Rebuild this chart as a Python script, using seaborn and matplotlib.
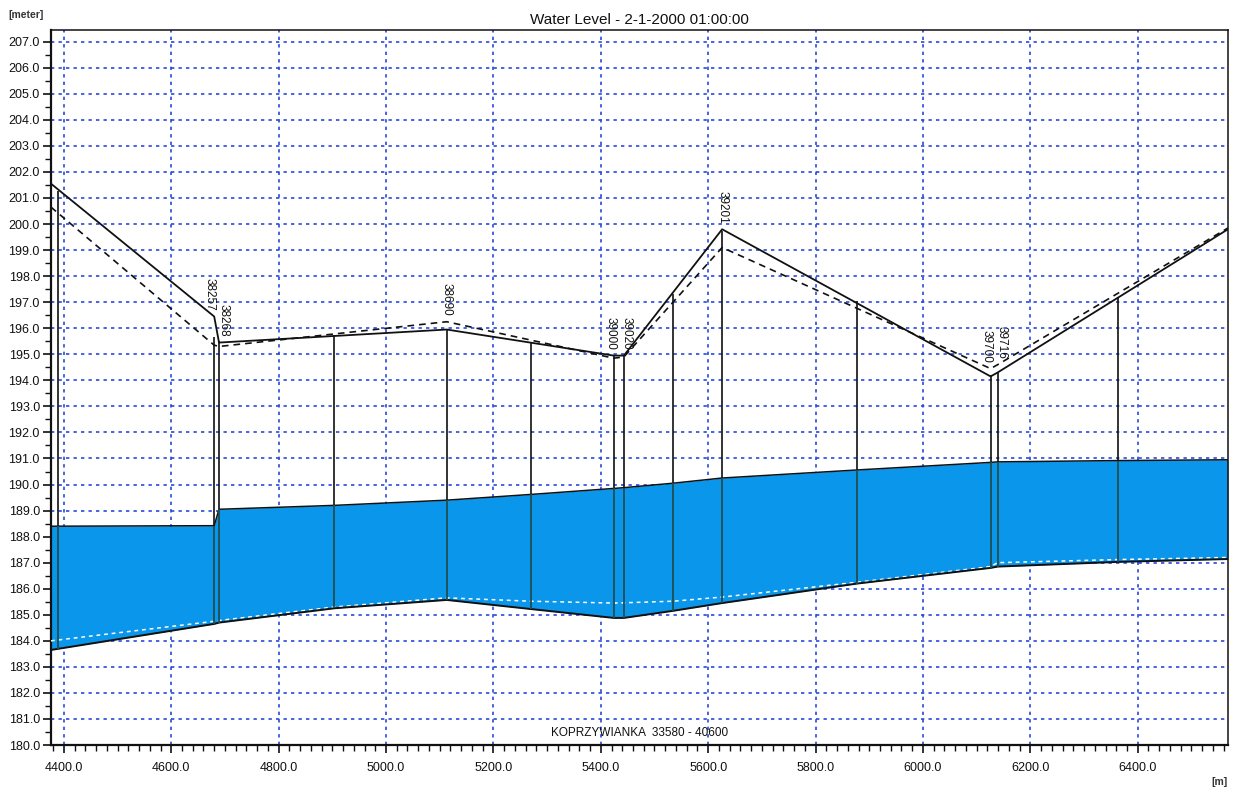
import matplotlib
matplotlib.use("Agg")
import numpy as np
import pandas as pd
import matplotlib.pyplot as plt
from matplotlib.ticker import MultipleLocator, FormatStrFormatter
import seaborn as sns

# ─── DATA ────────────────────────────────────────────────────────────────────

# top of cross-sections (bank level), current and previous (dashed)
top_chainage   = [4376, 4680, 4689, 5113, 5424, 5443, 5626, 6126, 6139, 6568]
top_level      = [201.55, 196.45, 195.45, 195.95, 194.95, 194.95, 199.80, 194.15, 194.30, 199.80]
top_level_prev = [200.65, 195.35, 195.30, 196.25, 194.85, 194.90, 199.10, 194.45, 194.60, 199.85]

# river bed, water surface and previous bed (white dashed)
bed_chainage   = [4376, 4680, 4689, 4904, 5113, 5270, 5424, 5443, 5534, 5626, 5878, 6126, 6139, 6363, 6568]
bed_level      = [183.65, 184.65, 184.70, 185.25, 185.57, 185.22, 184.88, 184.88, 185.15, 185.45, 186.20, 186.80, 186.85, 187.03, 187.14]
bed_level_prev = [184.00, 184.75, 184.78, 185.30, 185.65, 185.52, 185.45, 185.46, 185.52, 185.68, 186.25, 186.85, 187.00, 187.12, 187.20]
water_level    = [188.40, 188.42, 189.05, 189.20, 189.40, 189.62, 189.85, 189.88, 190.05, 190.25, 190.56, 190.85, 190.87, 190.92, 190.95]

# cross-section verticals
section_chainage = [4389, 4680, 4689, 4904, 5113, 5270, 5424, 5443, 5534, 5626, 5878, 6126, 6139, 6363]
section_bottom   = [183.68, 184.65, 184.70, 185.25, 185.57, 185.22, 184.88, 184.88, 185.15, 185.45, 186.20, 186.80, 186.85, 187.03]
section_top      = [201.25, 195.65, 195.50, 195.75, 195.95, 195.45, 194.92, 194.95, 197.30, 199.75, 197.05, 194.20, 194.30, 197.15]

label_chainage = [4680, 4689, 5113, 5424, 5443, 5626, 6126, 6139]
label_text     = ["38257", "38268", "38690", "39000", "39020", "39201", "39700", "39716"]
label_nudge    = [-3, 3, 0, -2, 2, 0, -3, 3]   # points, to keep neighbours apart

BLUE_FILL = "#0a96ea"
GRID_BLUE = "#2a48dc"

sns.set_theme(style="white")
plt.rcParams["font.family"] = ["Liberation Sans", "DejaVu Sans"]

fig = plt.figure(figsize=(12.34, 7.93), dpi=100)
ax = fig.add_axes([0.0413, 0.0605, 0.9538, 0.9017])

top_df = pd.DataFrame({"chainage": top_chainage, "top": top_level, "top_prev": top_level_prev})
bed_df = pd.DataFrame({"chainage": bed_chainage, "bed": bed_level,
                       "bed_prev": bed_level_prev, "water": water_level})

# water body
ax.fill_between(bed_df["chainage"], bed_df["bed"], bed_df["water"],
                color=BLUE_FILL, linewidth=0, zorder=2)

sns.lineplot(data=bed_df, x="chainage", y="bed_prev", ax=ax, color="white",
             lw=1.1, linestyle=(0, (2.5, 2.5)), estimator=None, zorder=3)
sns.lineplot(data=bed_df, x="chainage", y="bed", ax=ax, color="#111111",
             lw=1.4, estimator=None, zorder=4)
sns.lineplot(data=bed_df, x="chainage", y="water", ax=ax, color="#111111",
             lw=1.1, estimator=None, zorder=4)
sns.lineplot(data=top_df, x="chainage", y="top", ax=ax, color="#111111",
             lw=1.3, estimator=None, zorder=4)
sns.lineplot(data=top_df, x="chainage", y="top_prev", ax=ax, color="#111111",
             lw=1.2, linestyle=(0, (4, 3)), estimator=None, zorder=4)

# cross-section verticals: dark teal inside the water, black above
water_at_sec = np.interp(section_chainage, bed_chainage, water_level)
ax.vlines(section_chainage, section_bottom, water_at_sec, color="#1f4e52", lw=1.3, zorder=4)
ax.vlines(section_chainage, water_at_sec, section_top, color="#111111", lw=1.2, zorder=4)

# section labels, rotated, just above the bank line
for x, name, dx in zip(label_chainage, label_text, label_nudge):
    y = max(np.interp(x, top_chainage, top_level), np.interp(x, top_chainage, top_level_prev))
    ax.annotate(name, xy=(x, y), xytext=(dx, 4), textcoords="offset points",
                rotation=270, ha="center", va="bottom", fontsize=8.5, color="#111111", zorder=5)

# axes, ticks, grid
ax.set_xlim(4376, 6568)
ax.set_ylim(180.0, 207.45)
ax.xaxis.set_major_locator(MultipleLocator(200))
ax.xaxis.set_minor_locator(MultipleLocator(20))
ax.yaxis.set_major_locator(MultipleLocator(1))
ax.yaxis.set_minor_locator(MultipleLocator(0.5))
ax.xaxis.set_major_formatter(FormatStrFormatter("%.1f"))
ax.yaxis.set_major_formatter(FormatStrFormatter("%.1f"))
ax.tick_params(which="both", bottom=True, left=True, direction="out", colors="#111111")
ax.tick_params(which="major", length=6, width=1.2, labelsize=9, pad=6)
ax.tick_params(axis="y", which="major", pad=2)
ax.tick_params(which="minor", length=4, width=1.0)
ax.set_xlabel("")
ax.set_ylabel("")

ax.set_axisbelow(True)
ax.grid(True, which="major", color=GRID_BLUE, linestyle=(0, (2, 2.5)), lw=1.2, zorder=0)

for side, spine in ax.spines.items():
    spine.set_visible(True)
    spine.set_color("#111111")
    spine.set_linewidth(1.6 if side in ("left", "bottom") else 1.1)

ax.set_title("Water Level - 2-1-2000 01:00:00", fontsize=11, pad=4, color="#111111")
ax.text(0.5, 0.008, "KOPRZYWIANKA  33580 - 40600", transform=ax.transAxes,
        ha="center", va="bottom", fontsize=8.5, color="#111111", zorder=6)
fig.text(0.0065, 0.981, "[meter]", ha="left", va="center", fontsize=7.5,
         weight="bold", color="#333333")
fig.text(0.988, 0.008, "[m]", ha="center", va="bottom", fontsize=7.5,
         weight="bold", color="#333333")

fig.savefig("out.png", dpi=100)
plt.close(fig)
